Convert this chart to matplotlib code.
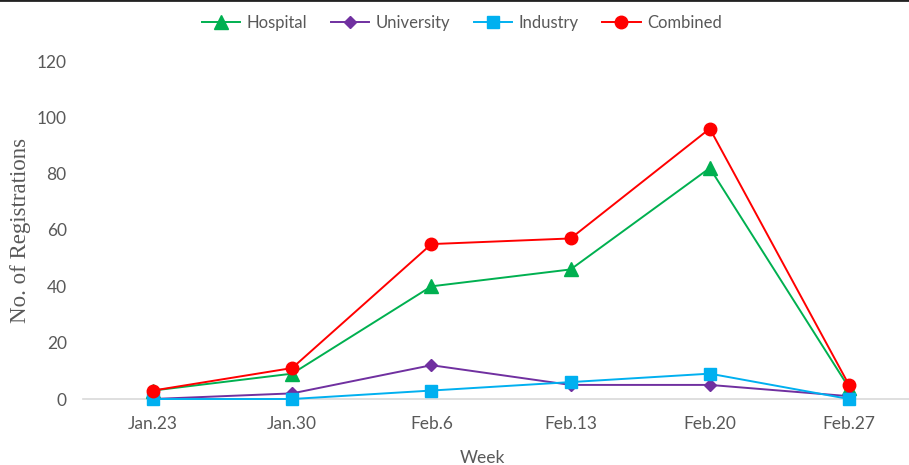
import matplotlib
matplotlib.use("Agg")
import matplotlib.pyplot as plt
from matplotlib.lines import Line2D

weeks = ["Jan.23", "Jan.30", "Feb.6", "Feb.13", "Feb.20", "Feb.27"]
hospital = [3, 9, 40, 46, 82, 4]
university = [0, 2, 12, 5, 5, 1]
industry = [0, 0, 3, 6, 9, 0]
combined = [3, 11, 55, 57, 96, 5]
yticks = [0, 20, 40, 60, 80, 100, 120]

plt.rcParams['font.family'] = ['Lato', 'DejaVu Sans']
gray = '#595959'

W, H = 909, 465
fig = plt.figure(figsize=(W / 100, H / 100), dpi=100)
ax_left, ax_right = 83.4, 83.4 + 835.2
ax_bottom, ax_top = 399, 61
ax = fig.add_axes([ax_left / W, (H - ax_bottom) / H, (ax_right - ax_left) / W, (ax_bottom - ax_top) / H])
x = list(range(len(weeks)))

ax.plot(x, hospital, color='#00B050', marker='^', markersize=9.5, lw=1.4, label='Hospital')
ax.plot(x, university, color='#7030A0', marker='D', markersize=6.5, lw=1.4, label='University')
ax.plot(x, industry, color='#00B0F0', marker='s', markersize=9, lw=1.4, label='Industry')
ax.plot(x, combined, color='#FF0000', marker='o', markersize=9, lw=1.4, label='Combined')

ax.set_xlim(-0.5, 5.5)
ax.set_ylim(0, 120)
ax.set_xticks(x)
ax.set_xticklabels(weeks)
ax.set_yticks(yticks)
for s in ['top', 'right', 'left']:
    ax.spines[s].set_visible(False)
ax.spines['bottom'].set_color('#D9D9D9')
ax.spines['bottom'].set_linewidth(1.2)
ax.spines['bottom'].set_zorder(0)
ax.tick_params(axis='both', length=0, labelsize=12.5, colors=gray)
ax.tick_params(axis='x', pad=12)
ax.tick_params(axis='y', pad=12)
for line in ax.get_lines():
    line.set_clip_on(False)

ax.set_xlabel('Week', fontsize=12.5, color=gray)
ax.xaxis.set_label_coords((482 - ax_left) / (ax_right - ax_left), -(458 - ax_bottom) / (ax_bottom - ax_top))
ax.xaxis.label.set_va('center')
ax.set_ylabel('No. of Registrations', fontsize=16.5, color=gray,
              family=['Liberation Serif', 'DejaVu Serif'])
ax.yaxis.set_label_coords(-(ax_left - 21) / (ax_right - ax_left), 0.5)
ax.yaxis.label.set_va('center')

leg = fig.legend(loc='center', bbox_to_anchor=(462 / W, 1 - 23 / H), ncol=4, frameon=False,
                 fontsize=12, handlelength=2.3, columnspacing=1.4, handletextpad=0.4)
for t in leg.get_texts():
    t.set_color(gray)

fig.add_artist(Line2D([0, 1], [0.999, 0.999], color='#222222', lw=2, transform=fig.transFigure))

fig.savefig('out.png', dpi=100)
